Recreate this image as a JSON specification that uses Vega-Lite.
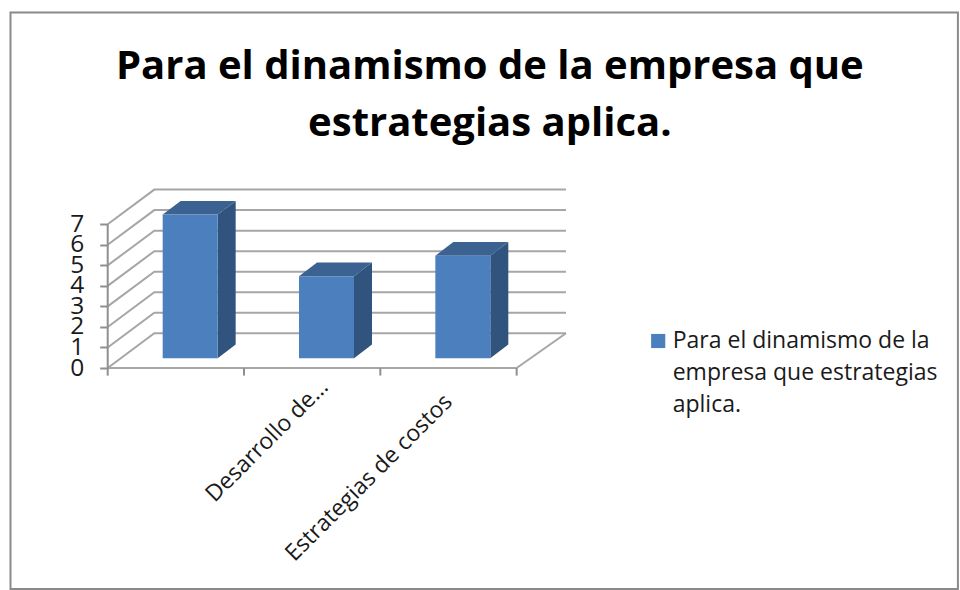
{
  "$schema": "https://vega.github.io/schema/vega-lite/v6.json",
  "width": 458.3,
  "height": 178,
  "autosize": {"type": "none"},
  "padding": {"left": 107.7, "top": 190, "right": 394, "bottom": 222},
  "background": "white",
  "title": {
    "text": ["Para el dinamismo de la empresa que", "estrategias aplica."],
    "font": "Open Sans",
    "fontWeight": "bold",
    "fontSize": 40,
    "lineHeight": 57,
    "color": "#000000",
    "anchor": "middle",
    "baseline": "alphabetic",
    "dx": 153,
    "offset": -164.5
  },
  "config": {
    "view": {"stroke": null},
    "style": {"guide-label": {"lineHeight": 32}}
  },
  "resolve": {"axis": {"x": "independent", "y": "independent"}},
  "datasets": {
    "respuestas": [
      {"categoria": "", "valor": 7, "serie": "Para el dinamismo de la empresa que estrategias aplica."},
      {"categoria": "Desarrollo de…", "valor": 4, "serie": "Para el dinamismo de la empresa que estrategias aplica."},
      {"categoria": "Estrategias de costos", "valor": 5, "serie": "Para el dinamismo de la empresa que estrategias aplica."}
    ],
    "niveles": [
      {"nivel": 0}, {"nivel": 1}, {"nivel": 2}, {"nivel": 3},
      {"nivel": 4}, {"nivel": 5}, {"nivel": 6}, {"nivel": 7}
    ],
    "divisiones": [{"limite": 0}, {"limite": 1}, {"limite": 2}, {"limite": 3}],
    "unica": [{}]
  },
  "layer": [
    {
      "description": "Outer frame of the chart area",
      "data": {"name": "unica"},
      "mark": {"type": "rect", "fillOpacity": 0, "stroke": "#8a8a8a", "strokeWidth": 2, "clip": false},
      "encoding": {
        "x": {"datum": -0.713, "type": "quantitative", "axis": null, "scale": {"domain": [0, 3.362], "nice": false, "zero": false}},
        "x2": {"datum": 6.237},
        "y": {"datum": 17.316, "type": "quantitative", "axis": null, "scale": {"domain": [0, 8.67], "nice": false, "zero": false}},
        "y2": {"datum": -10.765}
      }
    },
    {
      "description": "Gridlines running up the side wall and along the back wall, with both axes",
      "data": {"name": "niveles"},
      "transform": [
        {"calculate": "[0, 1, 2]", "as": "esquina"},
        {"flatten": ["esquina"]},
        {"calculate": "datum.esquina == 0 ? 0 : datum.esquina == 1 ? 0.342 : 3.362", "as": "px"},
        {"calculate": "datum.nivel + (datum.esquina == 0 ? 0 : 1.69)", "as": "py"}
      ],
      "mark": {"type": "line", "stroke": "#a6a6a6", "strokeWidth": 2, "clip": false},
      "encoding": {
        "x": {"field": "px", "type": "quantitative", "scale": {"domain": [0, 3.362], "nice": false, "zero": false}, "axis": {
          "values": [1.53, 2.44],
          "title": null,
          "domain": false,
          "ticks": false,
          "grid": false,
          "labelExpr": "datum.value < 2 ? 'Desarrollo de…' : 'Estrategias de costos'",
          "labelAngle": -45,
          "labelAlign": "right",
          "labelBaseline": "top",
          "labelFont": "Open Sans",
          "labelFontSize": 23,
          "labelColor": "#1a1a1a",
          "labelPadding": {"expr": "datum.value < 2 ? 7 : 22"},
          "labelOverlap": false,
          "labelBound": false,
          "labelFlush": false,
          "labelLimit": 400
        }},
        "y": {"field": "py", "type": "quantitative", "stack": null, "scale": {"domain": [0, 8.67], "nice": false, "zero": false}, "axis": {
          "values": [0, 1, 2, 3, 4, 5, 6, 7],
          "title": null,
          "domain": false,
          "grid": false,
          "tickColor": "#8f8f8f",
          "tickWidth": 2,
          "tickSize": 8,
          "labelFont": "Open Sans",
          "labelFontSize": 24.5,
          "labelColor": "#1a1a1a",
          "labelPadding": 16,
          "labelOverlap": false,
          "labelBound": false,
          "labelFlush": false
        }},
        "detail": {"field": "nivel", "type": "nominal"}
      }
    },
    {
      "description": "Right edge of the floor",
      "data": {"name": "unica"},
      "mark": {"type": "rule", "stroke": "#a6a6a6", "strokeWidth": 2, "clip": false},
      "encoding": {
        "x": {"datum": 3, "type": "quantitative", "axis": null, "scale": {"domain": [0, 3.362], "nice": false, "zero": false}},
        "x2": {"datum": 3.362},
        "y": {"datum": 0, "type": "quantitative", "axis": null, "scale": {"domain": [0, 8.67], "nice": false, "zero": false}},
        "y2": {"datum": 1.69}
      }
    },
    {
      "description": "Front edge of the floor",
      "data": {"name": "unica"},
      "mark": {"type": "rule", "stroke": "#a6a6a6", "strokeWidth": 2, "clip": false},
      "encoding": {
        "x": {"datum": 0, "type": "quantitative", "axis": null, "scale": {"domain": [0, 3.362], "nice": false, "zero": false}},
        "x2": {"datum": 3},
        "y": {"datum": 0, "type": "quantitative", "axis": null, "scale": {"domain": [0, 8.67], "nice": false, "zero": false}}
      }
    },
    {
      "description": "Value axis line, stopping at the top tick",
      "data": {"name": "unica"},
      "mark": {"type": "rule", "stroke": "#8f8f8f", "strokeWidth": 2, "clip": false},
      "encoding": {
        "x": {"datum": 0, "type": "quantitative", "axis": null, "scale": {"domain": [0, 3.362], "nice": false, "zero": false}},
        "y": {"datum": 0, "type": "quantitative", "axis": null, "scale": {"domain": [0, 8.67], "nice": false, "zero": false}},
        "y2": {"datum": 7}
      }
    },
    {
      "description": "Category division ticks below the floor",
      "data": {"name": "divisiones"},
      "mark": {"type": "rule", "stroke": "#8f8f8f", "strokeWidth": 2, "clip": false},
      "encoding": {
        "x": {"field": "limite", "type": "quantitative", "axis": null, "scale": {"domain": [0, 3.362], "nice": false, "zero": false}},
        "y": {"datum": 0, "type": "quantitative", "axis": null, "scale": {"domain": [0, 8.67], "nice": false, "zero": false}},
        "y2": {"datum": -0.37}
      }
    },
    {
      "description": "Side face of each column",
      "data": {"name": "respuestas"},
      "transform": [
        {"window": [{"op": "row_number", "as": "fila"}]},
        {"calculate": "[0, 1]", "as": "esquina"},
        {"flatten": ["esquina"]},
        {"calculate": "datum.fila - 1 + 0.8068 + datum.esquina * 0.132", "as": "px"},
        {"calculate": "0.4725 + datum.valor + datum.esquina * 0.667", "as": "arriba"},
        {"calculate": "0.4725 + datum.esquina * 0.667", "as": "abajo"}
      ],
      "mark": {"type": "area", "fill": "#31547E", "clip": false},
      "encoding": {
        "x": {"field": "px", "type": "quantitative", "axis": null, "scale": {"domain": [0, 3.362], "nice": false, "zero": false}},
        "y": {"field": "arriba", "type": "quantitative", "axis": null, "stack": null, "scale": {"domain": [0, 8.67], "nice": false, "zero": false}},
        "y2": {"field": "abajo"},
        "detail": {"field": "fila", "type": "nominal"}
      }
    },
    {
      "description": "Top face of each column",
      "data": {"name": "respuestas"},
      "transform": [
        {"window": [{"op": "row_number", "as": "fila"}]},
        {"calculate": "[0, 1, 2, 3]", "as": "esquina"},
        {"flatten": ["esquina"]},
        {"calculate": "datum.fila - 1 + 0.4034 + [0, 0.132, 0.4034, 0.5354][datum.esquina]", "as": "px"},
        {"calculate": "0.4725 + datum.valor + (datum.esquina == 0 ? 0 : 0.667)", "as": "arriba"},
        {"calculate": "0.4725 + datum.valor + (datum.esquina == 3 ? 0.667 : 0)", "as": "abajo"}
      ],
      "mark": {"type": "area", "fill": "#3B6290", "clip": false},
      "encoding": {
        "x": {"field": "px", "type": "quantitative", "axis": null, "scale": {"domain": [0, 3.362], "nice": false, "zero": false}},
        "y": {"field": "arriba", "type": "quantitative", "axis": null, "stack": null, "scale": {"domain": [0, 8.67], "nice": false, "zero": false}},
        "y2": {"field": "abajo"},
        "detail": {"field": "fila", "type": "nominal"}
      }
    },
    {
      "description": "Front face of each column, carrying the series legend",
      "data": {"name": "respuestas"},
      "transform": [
        {"window": [{"op": "row_number", "as": "fila"}]},
        {"calculate": "datum.fila - 1 + 0.4034", "as": "izquierda"},
        {"calculate": "datum.fila - 1 + 0.8068", "as": "derecha"},
        {"calculate": "0.4725 + datum.valor", "as": "arriba"},
        {"calculate": "0.4725", "as": "abajo"}
      ],
      "mark": {"type": "rect", "clip": false},
      "encoding": {
        "x": {"field": "izquierda", "type": "quantitative", "axis": null, "scale": {"domain": [0, 3.362], "nice": false, "zero": false}},
        "x2": {"field": "derecha"},
        "y": {"field": "arriba", "type": "quantitative", "axis": null, "scale": {"domain": [0, 8.67], "nice": false, "zero": false}},
        "y2": {"field": "abajo"},
        "color": {
          "field": "serie",
          "type": "nominal",
          "scale": {"range": ["#4C7FBD"]},
          "legend": {
            "orient": "none",
            "legendX": 539,
            "legendY": 139.5,
            "title": null,
            "symbolType": "square",
            "symbolSize": 200,
            "symbolStrokeWidth": 0,
            "labelFont": "Open Sans",
            "labelFontSize": 23,
            "labelColor": "#1a1a1a",
            "labelLimit": 400,
            "labelOffset": 3,
            "labelExpr": "['Para el dinamismo de la', 'empresa que estrategias', 'aplica.']"
          }
        }
      }
    }
  ]
}
